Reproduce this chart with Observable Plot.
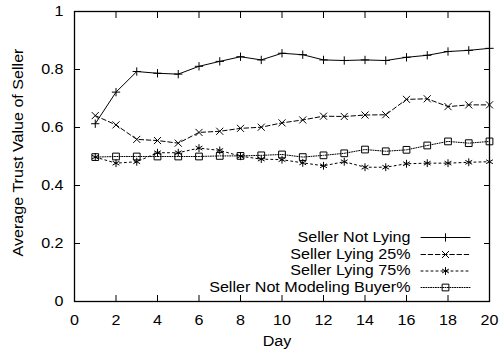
<!DOCTYPE html>
<html>
<head>
<meta charset="utf-8">
<script src="https://cdn.jsdelivr.net/npm/d3@7"></script>
<script src="https://cdn.jsdelivr.net/npm/@observablehq/plot@0.6"></script>
<style>
  html, body { margin: 0; padding: 0; background: #fff; }
  #chart { width: 501px; height: 358px; }
</style>
</head>
<body>
<div id="chart"></div>
<script>
// Days of the simulation
const days = [1, 2, 3, 4, 5, 6, 7, 8, 9, 10, 11, 12, 13, 14, 15, 16, 17, 18, 19, 20];

// Average trust value of the seller, one array per seller behaviour
const notLying    = [0.613, 0.722, 0.793, 0.787, 0.784, 0.811, 0.828, 0.844, 0.833, 0.856, 0.851, 0.833, 0.831, 0.833, 0.831, 0.842, 0.849, 0.862, 0.866, 0.873];
const lying25     = [0.641, 0.609, 0.559, 0.555, 0.546, 0.583, 0.587, 0.597, 0.601, 0.616, 0.626, 0.639, 0.638, 0.643, 0.644, 0.697, 0.699, 0.672, 0.678, 0.678];
const lying75     = [0.498, 0.477, 0.482, 0.513, 0.513, 0.529, 0.521, 0.501, 0.491, 0.489, 0.478, 0.468, 0.482, 0.463, 0.463, 0.475, 0.477, 0.477, 0.480, 0.482];
const notModeling = [0.498, 0.500, 0.500, 0.500, 0.500, 0.500, 0.502, 0.502, 0.504, 0.507, 0.498, 0.504, 0.511, 0.524, 0.518, 0.523, 0.538, 0.552, 0.546, 0.552];

const seriesNames = ["Seller Not Lying", "Seller Lying 25%", "Seller Lying 75%", "Seller Not Modeling Buyer%"];
const seriesValues = [notLying, lying25, lying75, notModeling];

// Axis ticks and their labels
const xTicks = [0, 2, 4, 6, 8, 10, 12, 14, 16, 18, 20];
const xTickLabels = ["0", "2", "4", "6", "8", "10", "12", "14", "16", "18", "20"];
const yTicks = [0, 0.2, 0.4, 0.6, 0.8, 1];
const yTickLabels = ["0", "0.2", "0.4", "0.6", "0.8", "1"];

const xTitle = "Day";
const yTitle = "Average Trust Value of Seller";

// Line and point styles, one per series (gnuplot-like)
const styles = [
  {dash: null,      symbol: "plus",     r: 2.8},
  {dash: "4.5,2.7", symbol: "times",    r: 3.3},
  {dash: "2,3",     symbol: "asterisk", r: 3.7},
  {dash: "1,1.4",   symbol: "square",   r: 3.8}
];

// Long-format table for the marks
const rows = seriesNames.flatMap((name, s) =>
  days.map((day, i) => ({series: name, day, value: seriesValues[s][i]}))
);

// A plain straight-line shape for vectors (legend samples)
const segment = {
  draw(context, length) {
    context.moveTo(0, 0);
    context.lineTo(0, -length);
  }
};

const legendRowDy = [-64, -47, -30.5, -14];

const marks = [];

// Series lines and point symbols
seriesNames.forEach((name, s) => {
  const data = rows.filter(d => d.series === name);
  marks.push(Plot.line(data, {
    x: "day", y: "value",
    stroke: "black", strokeWidth: 1,
    strokeDasharray: styles[s].dash
  }));
  marks.push(Plot.dot(data, {
    x: "day", y: "value",
    symbol: () => styles[s].symbol, r: styles[s].r,
    fill: "none", stroke: "black", strokeWidth: 1
  }));
});

// Key, anchored to the lower right of the frame
seriesNames.forEach((name, s) => {
  marks.push(Plot.text([name], {
    text: d => d, frameAnchor: "bottom-right",
    dx: -79, dy: legendRowDy[s],
    textAnchor: "end", lineAnchor: "middle", fill: "black"
  }));
  marks.push(Plot.vector([name], {
    frameAnchor: "bottom-right", dx: -44, dy: legendRowDy[s],
    rotate: 90, length: 49, anchor: "middle", shape: segment,
    stroke: "black", strokeWidth: 1, strokeDasharray: styles[s].dash
  }));
  marks.push(Plot.dot([name], {
    frameAnchor: "bottom-right", dx: -44, dy: legendRowDy[s],
    symbol: () => styles[s].symbol, r: styles[s].r,
    fill: "none", stroke: "black", strokeWidth: 1
  }));
});

// Inward ticks on all four sides
marks.push(Plot.axisX(xTicks, {anchor: "bottom", tickSize: -6, fill: "none", label: null, stroke: "black"}));
marks.push(Plot.axisX(xTicks, {anchor: "top", tickSize: -6, fill: "none", label: null, stroke: "black"}));
marks.push(Plot.axisY(yTicks, {anchor: "left", tickSize: -6, fill: "none", label: null, stroke: "black"}));
marks.push(Plot.axisY(yTicks, {anchor: "right", tickSize: -6, fill: "none", label: null, stroke: "black"}));

// Tick labels
marks.push(Plot.axisX(xTicks, {
  anchor: "bottom", tickSize: 0, tickPadding: 14, label: null, fill: "black",
  tickFormat: d => xTickLabels[xTicks.indexOf(d)]
}));
marks.push(Plot.axisY(yTicks, {
  anchor: "left", tickSize: 0, tickPadding: 11, label: null, fill: "black",
  tickFormat: d => yTickLabels[yTicks.indexOf(d)]
}));

// Axis titles
marks.push(Plot.text([xTitle], {
  text: d => d, frameAnchor: "bottom", dx: -5, dy: 40.5,
  textAnchor: "middle", lineAnchor: "middle", fill: "black"
}));
marks.push(Plot.text([yTitle], {
  text: d => d, frameAnchor: "left", dx: -56, dy: -4,
  rotate: -90, textAnchor: "middle", lineAnchor: "middle", fill: "black"
}));

// Border
marks.push(Plot.frame({stroke: "black", strokeWidth: 1.3}));

const chart = Plot.plot({
  width: 501,
  height: 358,
  marginLeft: 74,
  marginRight: 12,
  marginTop: 11,
  marginBottom: 57,
  x: {domain: [0, 20]},
  y: {domain: [0, 1]},
  style: {
    fontFamily: "'Liberation Sans', Arial, Helvetica, sans-serif",
    fontSize: "14px",
    color: "black",
    background: "white"
  },
  marks
});

document.getElementById("chart").appendChild(chart);

// The lettering is set slightly wide, like the terminal font of the original plot.
// Each label is widened about its own anchor point.
const widen = 1.15;
chart.querySelectorAll("text").forEach(t => {
  const len = t.getComputedTextLength();
  if (!(len > 0)) return;
  const wide = len * widen;
  const anchor = getComputedStyle(t).textAnchor;
  const x0 = parseFloat(t.getAttribute("x") || "0");
  let start = x0;
  if (anchor === "middle") start = x0 - wide / 2;
  else if (anchor === "end") start = x0 - wide;
  t.setAttribute("text-anchor", "start");
  t.style.textAnchor = "start";
  t.setAttribute("x", start.toFixed(2));
  t.setAttribute("textLength", wide.toFixed(2));
  t.setAttribute("lengthAdjust", "spacingAndGlyphs");
});
</script>
</body>
</html>
